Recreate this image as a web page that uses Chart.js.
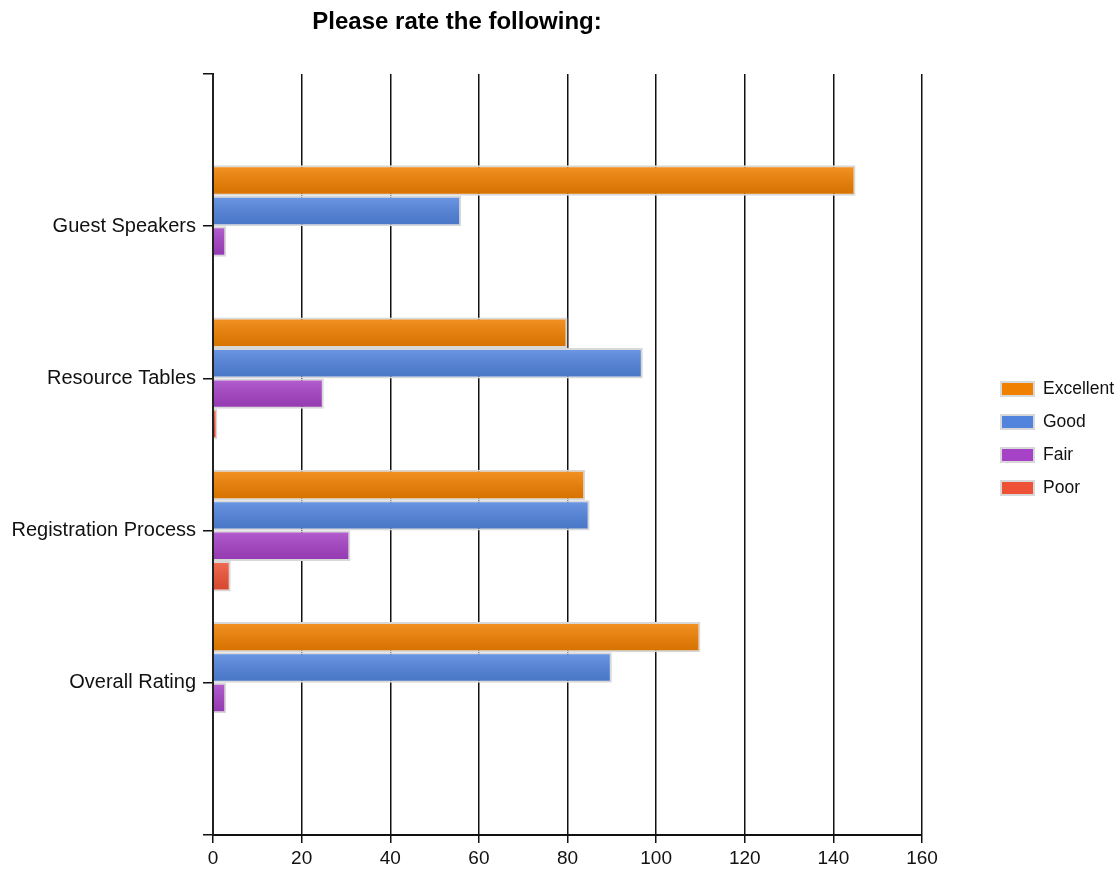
<!DOCTYPE html>
<html>
<head>
<meta charset="utf-8">
<script src="https://cdn.jsdelivr.net/npm/chart.js"></script>
<style>
  html, body { margin: 0; padding: 0; background: #fff; }
  #wrap { position: relative; width: 1120px; height: 871px; }
  #legend { position: absolute; left: 1000px; top: 372px; font-family: "Liberation Sans", Arial, sans-serif; font-size: 17.5px; color: #111; }
  #legend .item { display: flex; align-items: center; height: 33px; }
  #legend .box { width: 31px; height: 12px; border: 2px solid #d8d8d8; margin-right: 8px; }
</style>
</head>
<body>
<div id="wrap">
  <canvas id="chart"></canvas>
  <div id="legend"></div>
</div>
<script>
const chartTitle = 'Please rate the following:';
const categories = ['Guest Speakers', 'Resource Tables', 'Registration Process', 'Overall Rating'];
const seriesNames = ['Excellent', 'Good', 'Fair', 'Poor'];
const excellent = [145, 80, 84, 110];
const good = [56, 97, 85, 90];
const fair = [3, 25, 31, 3];
const poor = [0, 1, 4, 0];
const xMin = 0;
const xMax = 160;
const xStep = 20;

const colors = ['#f08000', '#5284de', '#a642c6', '#ee5236'];
const values = [excellent, good, fair, poor];

// empty slots above and below so the groups sit like the original
const labels = [''].concat(categories, ['']);

const datasets = seriesNames.map((name, i) => ({
  label: name,
  data: [null].concat(values[i], [null]),
  backgroundColor: colors[i],
  borderColor: '#d8d8d8',
  borderWidth: 2,
  borderSkipped: 'start',
  categoryPercentage: 0.8,
  barPercentage: 1.0
}));

// light-to-dark shading on each bar, then the value axis line on top
const barShade = {
  id: 'barShade',
  afterDatasetsDraw(chart) {
    const ctx = chart.ctx;
    chart.data.datasets.forEach((ds, i) => {
      const meta = chart.getDatasetMeta(i);
      meta.data.forEach(bar => {
        const p = bar.getProps(['x', 'y', 'base', 'height'], true);
        if (p.x == null || isNaN(p.y)) return;
        const bw = ds.borderWidth;
        const left = Math.min(p.base, p.x);
        const right = Math.max(p.base, p.x) - bw;
        const top = p.y - p.height / 2 + bw;
        const bottom = p.y + p.height / 2 - bw;
        if (right <= left) return;
        const g = ctx.createLinearGradient(0, top, 0, bottom);
        g.addColorStop(0, 'rgba(255,255,255,0.14)');
        g.addColorStop(1, 'rgba(0,0,0,0.10)');
        ctx.save();
        ctx.fillStyle = g;
        ctx.fillRect(left, top, right - left, bottom - top);
        ctx.restore();
      });
    });
    const area = chart.chartArea;
    ctx.save();
    ctx.strokeStyle = '#222';
    ctx.lineWidth = 2;
    ctx.beginPath();
    ctx.moveTo(area.left, area.top);
    ctx.lineTo(area.left, area.bottom);
    ctx.stroke();
    ctx.restore();
  }
};

const titlePlugin = {
  id: 'titleText',
  afterDraw(chart) {
    const ctx = chart.ctx;
    ctx.save();
    ctx.font = 'bold 24px "Liberation Sans", Arial, sans-serif';
    ctx.fillStyle = '#000';
    ctx.textAlign = 'center';
    ctx.textBaseline = 'middle';
    ctx.fillText(chartTitle, 457, 22);
    ctx.restore();
  }
};

Chart.defaults.font.family = '"Liberation Sans", Arial, sans-serif';
Chart.defaults.font.size = 19;
Chart.defaults.color = '#111';

new Chart(document.getElementById('chart'), {
  type: 'bar',
  data: { labels: labels, datasets: datasets },
  options: {
    indexAxis: 'y',
    responsive: true,
    maintainAspectRatio: false,
    animation: false,
    layout: { padding: { top: 74, right: 198, bottom: 0, left: 0 } },
    plugins: {
      legend: { display: false },
      tooltip: { enabled: false }
    },
    scales: {
      x: {
        min: xMin,
        max: xMax,
        ticks: { stepSize: xStep, padding: 4 },
        grid: { color: '#111', lineWidth: 1.5, tickLength: 8 },
        border: { color: '#111', width: 2 },
        afterFit(scale) { scale.height = 36; }
      },
      y: {
        offset: false,
        ticks: { padding: 7, autoSkip: false, font: { size: 20 } },
        grid: { offset: false, drawOnChartArea: false, color: '#111', lineWidth: 1.5, tickLength: 10 },
        border: { color: '#111', width: 2 },
        afterFit(scale) { scale.width = 213; }
      }
    }
  },
  plugins: [barShade, titlePlugin]
});

const legendEl = document.getElementById('legend');
seriesNames.forEach((name, i) => {
  const item = document.createElement('div');
  item.className = 'item';
  const box = document.createElement('span');
  box.className = 'box';
  box.style.background = colors[i];
  const txt = document.createElement('span');
  txt.textContent = name;
  item.appendChild(box);
  item.appendChild(txt);
  legendEl.appendChild(item);
});
</script>
</body>
</html>
